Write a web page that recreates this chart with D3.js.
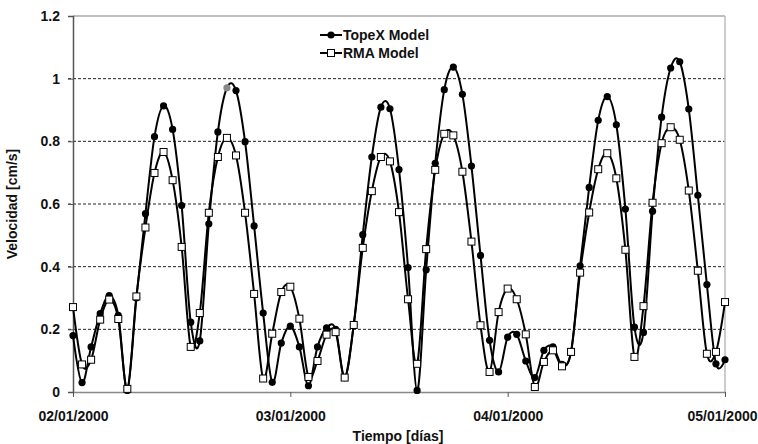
<!doctype html>
<html lang="es">
<head>
  <meta charset="UTF-8">
  <title>Velocidad</title>
  <script src="https://cdn.jsdelivr.net/npm/d3@7"></script>
  <style>
    body { margin: 0; background: #fff; }
    text { font-family: "Liberation Sans", Arial, sans-serif; font-weight: bold; }
  </style>
</head>
<body>
<div id="chart"></div>
<script>
// hourly values from 02/01/2000 00:00 to 05/01/2000 00:00
var startDate = new Date(2000, 0, 2);
var endDate = new Date(2000, 0, 5);

var topex = [0.18,0.03,0.144,0.25,0.308,0.245,0.005,0.30,0.569,0.815,
  0.913,0.838,0.595,0.223,0.163,0.537,0.83,0.971,0.962,0.799,
  0.53,0.252,0.031,0.156,0.21,0.144,0.02,0.144,0.205,0.2,
  0.046,0.214,0.502,0.75,0.909,0.904,0.71,0.397,0.005,0.39,
  0.73,0.965,1.037,0.95,0.721,0.436,0.165,0.064,0.175,0.184,
  0.099,0.046,0.133,0.144,0.088,0.128,0.403,0.653,0.867,0.943,
  0.853,0.584,0.207,0.19,0.577,0.877,1.034,1.054,0.903,0.628,
  0.343,0.09,0.103];

var rma = [0.271,0.088,0.103,0.231,0.295,0.233,0.01,0.305,0.525,0.699,
  0.766,0.676,0.463,0.144,0.252,0.572,0.75,0.811,0.755,0.572,
  0.313,0.043,0.186,0.319,0.336,0.234,0.048,0.099,0.183,0.191,
  0.046,0.214,0.46,0.641,0.75,0.736,0.574,0.296,0.09,0.456,
  0.709,0.824,0.819,0.703,0.48,0.213,0.064,0.255,0.33,0.296,
  0.184,0.016,0.096,0.133,0.082,0.128,0.381,0.573,0.711,0.762,
  0.682,0.454,0.112,0.274,0.604,0.794,0.845,0.805,0.643,0.387,
  0.122,0.128,0.287];

var yTicks = [0, 0.2, 0.4, 0.6, 0.8, 1, 1.2];
var seriesNames = ['TopeX Model', 'RMA Model'];

var W = 758, H = 444;
var margin = {top: 16, right: 33, bottom: 52, left: 73};

var svg = d3.select('#chart').append('svg')
  .attr('width', W)
  .attr('height', H);

var x = d3.scaleTime()
  .domain([startDate, endDate])
  .range([margin.left, W - margin.right]);

var y = d3.scaleLinear()
  .domain([0, 1.2])
  .range([H - margin.bottom, margin.top]);

function toPoints(vals) {
  return vals.map(function(v, i) {
    return {t: d3.timeHour.offset(startDate, i), v: v};
  });
}

// grid
svg.append('g')
  .selectAll('line')
  .data(yTicks.filter(function(d) { return d > 0 && d < 1.2; }))
  .enter().append('line')
  .attr('x1', margin.left - 5)
  .attr('x2', W - margin.right)
  .attr('y1', function(d) { return y(d); })
  .attr('y2', function(d) { return y(d); })
  .attr('stroke', '#222')
  .attr('stroke-width', 1)
  .attr('stroke-dasharray', '3,2');

// top + right border
svg.append('line')
  .attr('x1', margin.left).attr('x2', W - margin.right)
  .attr('y1', y(1.2)).attr('y2', y(1.2))
  .attr('stroke', '#aaa').attr('stroke-width', 1.5);
svg.append('line')
  .attr('x1', W - margin.right).attr('x2', W - margin.right)
  .attr('y1', y(1.2)).attr('y2', y(0))
  .attr('stroke', '#bbb').attr('stroke-width', 1.5);

// axes
var yAxis = svg.append('g')
  .attr('transform', 'translate(' + margin.left + ',0)')
  .call(d3.axisLeft(y).tickValues(yTicks).tickSize(5).tickPadding(8)
    .tickFormat(function(d) { return d3.format('')(+d.toFixed(1)); }));
yAxis.select('.domain').attr('stroke', '#555').attr('stroke-width', 1.5);
yAxis.selectAll('.tick line').attr('stroke', '#555');
yAxis.selectAll('text').attr('font-size', 14).attr('fill', '#111')
  .style('font-family', '"Liberation Sans", Arial, sans-serif').style('font-weight', 'bold');

var xAxis = svg.append('g')
  .attr('transform', 'translate(0,' + y(0) + ')')
  .call(d3.axisBottom(x).ticks(d3.timeDay.every(1)).tickSize(5).tickSizeOuter(0).tickPadding(14)
    .tickFormat(d3.timeFormat('%d/%m/%Y')));
xAxis.select('.domain').attr('stroke', '#888').attr('stroke-width', 1.5);
xAxis.selectAll('.tick line').attr('stroke', '#555');
xAxis.selectAll('text').attr('font-size', 14).attr('fill', '#111')
  .style('font-family', '"Liberation Sans", Arial, sans-serif').style('font-weight', 'bold');
// last label would run past the page edge: pin its right end to the edge
xAxis.selectAll('.tick').filter(function(d) { return +d == +endDate; })
  .select('text')
  .attr('text-anchor', 'end')
  .attr('x', W - 1 - x(endDate));

// axis titles
svg.append('text')
  .attr('x', 398).attr('y', 441)
  .attr('text-anchor', 'middle')
  .attr('font-size', 14).attr('fill', '#111')
  .text('Tiempo [días]');
svg.append('text')
  .attr('transform', 'translate(17,' + ((margin.top + H - margin.bottom) / 2) + ') rotate(-90)')
  .attr('text-anchor', 'middle')
  .attr('font-size', 14).attr('fill', '#111')
  .text('Velocidad [cm/s]');

var line = d3.line()
  .x(function(d) { return x(d.t); })
  .y(function(d) { return y(d.v); })
  .curve(d3.curveCardinal.tension(0));

// TopeX series
var topexPts = toPoints(topex);
svg.append('path')
  .datum(topexPts)
  .attr('fill', 'none')
  .attr('stroke', '#000')
  .attr('stroke-width', 2)
  .attr('d', line);
svg.append('g').selectAll('circle')
  .data(topexPts)
  .enter().append('circle')
  .attr('cx', function(d) { return x(d.t); })
  .attr('cy', function(d) { return y(d.v); })
  .attr('r', 3.6)
  .attr('fill', function(d, i) { return i == 17 ? '#888' : '#000'; });

// RMA series
var rmaPts = toPoints(rma);
svg.append('path')
  .datum(rmaPts)
  .attr('fill', 'none')
  .attr('stroke', '#000')
  .attr('stroke-width', 2)
  .attr('d', line);
svg.append('g').selectAll('rect')
  .data(rmaPts)
  .enter().append('rect')
  .attr('x', function(d) { return x(d.t) - 3.5; })
  .attr('y', function(d) { return y(d.v) - 3.5; })
  .attr('width', 7)
  .attr('height', 7)
  .attr('fill', '#fff')
  .attr('stroke', '#000')
  .attr('stroke-width', 1);

// legend
var legend = svg.append('g').attr('transform', 'translate(320,35)');
seriesNames.forEach(function(name, i) {
  var g = legend.append('g').attr('transform', 'translate(0,' + (i * 18) + ')');
  g.append('line').attr('x1', 0).attr('x2', 22).attr('y1', 0).attr('y2', 0)
    .attr('stroke', '#000').attr('stroke-width', 2);
  if (i == 0) {
    g.append('circle').attr('cx', 11).attr('cy', 0).attr('r', 3.6).attr('fill', '#000');
  } else {
    g.append('rect').attr('x', 7.5).attr('y', -3.5).attr('width', 7).attr('height', 7)
      .attr('fill', '#fff').attr('stroke', '#000');
  }
  g.append('text').attr('x', 23).attr('y', 5)
    .attr('font-size', 14).attr('fill', '#111')
    .text(name);
});
</script>
</body>
</html>
